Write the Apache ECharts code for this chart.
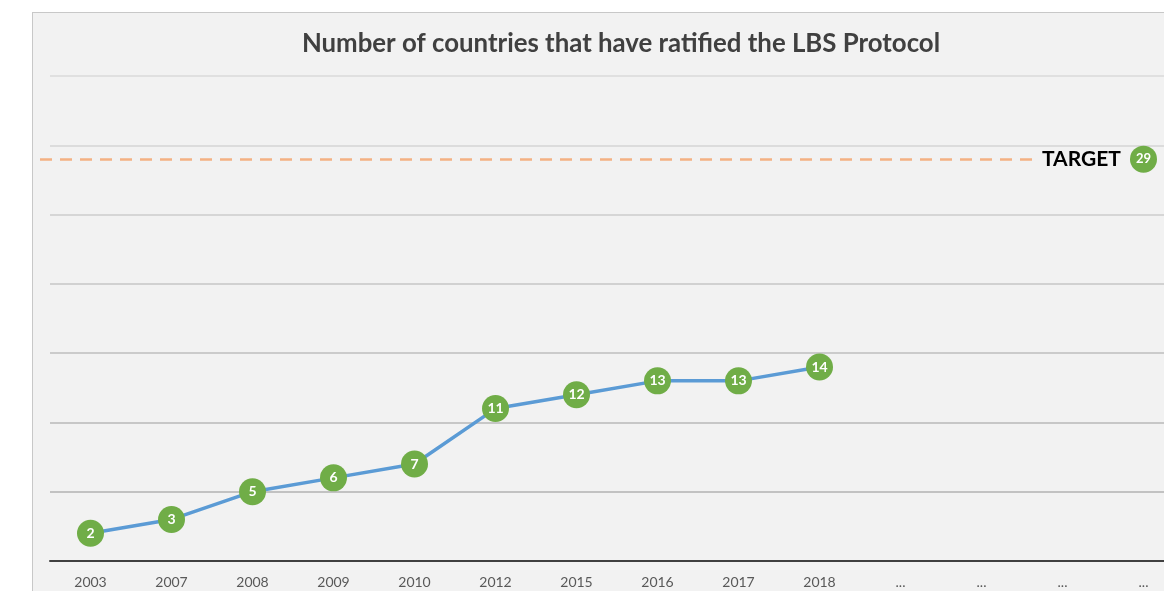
<!DOCTYPE html>
<html>
<head>
<meta charset="utf-8">
<script src="https://cdn.jsdelivr.net/npm/echarts@6/dist/echarts.min.js"></script>
<style>
  body { margin: 0; background: #fff; overflow: hidden; }
  #box { position: absolute; left: 32px; top: 12px; width: 1200px; height: 600px; background: #f2f2f2; border: 1px solid #c8c8c8; }
  #main { position: absolute; left: 0; top: 0; width: 1200px; height: 591px; }
</style>
</head>
<body>
<div id="box"></div>
<div id="main"></div>
<script>
var years = ['2003', '2007', '2008', '2009', '2010', '2012', '2015', '2016', '2017', '2018', '...', '...', '...', '...'];
var ratified = [2, 3, 5, 6, 7, 11, 12, 13, 13, 14];
var target = 29;
var yTicks = [0, 5, 10, 15, 20, 25, 30, 35];

// the plot runs past the right edge of the window, like the cropped original
var myChart = echarts.init(document.getElementById('main'));

var option = {
    animation: false,
    textStyle: { fontFamily: 'Lato' },
    title: {
        text: 'Number of countries that have ratified the LBS Protocol',
        left: 616,
        top: 26,
        textAlign: 'center',
        textStyle: { fontSize: 25.8, fontWeight: 'bold', color: '#404040', fontFamily: 'Lato' }
    },
    grid: { left: 50, top: 76, right: 16, bottom: 30 },
    xAxis: {
        type: 'category',
        data: years,
        boundaryGap: true,
        axisLine: { lineStyle: { color: '#404040', width: 2 } },
        axisTick: { show: false },
        axisLabel: { color: '#595959', fontSize: 14, margin: 14, interval: 0 }
    },
    yAxis: {
        type: 'value',
        min: yTicks[0],
        max: yTicks[yTicks.length - 1],
        interval: 5,
        axisLine: { show: false },
        axisTick: { show: false },
        axisLabel: { show: false },
        splitLine: {
            lineStyle: {
                width: 1.5,
                color: ['#aaaaaa', '#b2b2b2', '#b8b8b8', '#bebebe', '#c6c6c6', '#cdcdcd', '#d4d4d4', '#dadada']
            }
        }
    },
    series: [{
        name: 'Countries',
        type: 'line',
        data: ratified,
        symbol: 'circle',
        symbolSize: 27,
        itemStyle: { color: '#70ad47' },
        lineStyle: { color: '#5b9bd5', width: 3.5 },
        label: {
            show: true,
            position: 'inside',
            color: '#fff',
            fontWeight: 'bold',
            fontSize: 14
        },
        markLine: {
            silent: true,
            symbol: 'none',
            lineStyle: { color: '#f4b183', type: [12, 8], width: 2.5 },
            label: {
                show: true,
                position: 'end',
                distance: 5,
                formatter: 'TARGET',
                color: '#000',
                fontWeight: 'bold',
                fontSize: 21
            },
            data: [[{ x: 40, yAxis: target }, { x: 1037, yAxis: target }]]
        },
        markPoint: {
            silent: true,
            symbol: 'circle',
            symbolSize: 27,
            itemStyle: { color: '#70ad47' },
            label: { show: true, color: '#fff', fontWeight: 'bold', fontSize: 13 },
            data: [{ coord: [years.length - 1, target], value: target }]
        }
    }]
};

myChart.setOption(option);
</script>
</body>
</html>
